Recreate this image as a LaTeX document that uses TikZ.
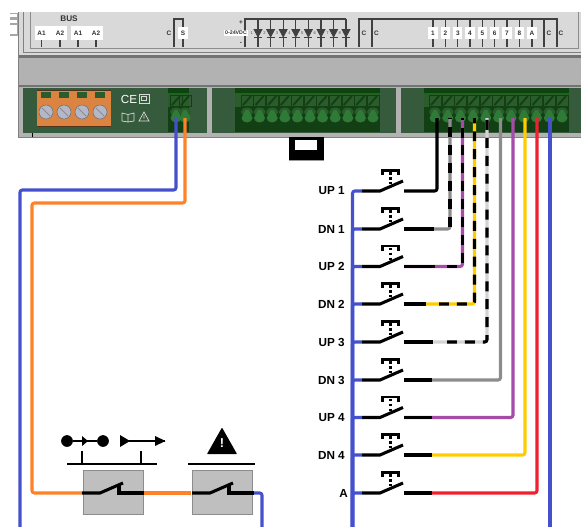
\documentclass[tikz,border=0pt]{standalone}
\usepackage{fontspec}
\setmainfont{Liberation Sans}
\definecolor{pcbgreen}{HTML}{365B3C}
\definecolor{termdark}{HTML}{123F14}
\definecolor{termmid}{HTML}{2A5C2C}
\definecolor{termbell}{HTML}{2F7A36}
\definecolor{paneltop}{HTML}{D9D9D9}
\definecolor{panelband}{HTML}{B2B2B2}
\definecolor{plugorange}{HTML}{DB8442}
\definecolor{screwgray}{HTML}{B4B7C8}
\definecolor{wireblue}{HTML}{4450CC}
\definecolor{wireorange}{HTML}{FF8128}
\definecolor{wirepurple}{HTML}{A64CA8}
\definecolor{wireyellow}{HTML}{FFCC00}
\definecolor{wirered}{HTML}{F0202E}
\definecolor{wiregray}{HTML}{8C8C8C}
\definecolor{wirelight}{HTML}{D4D4D4}
\tikzset{
  wire/.style={line width=2.6pt, rounded corners=2pt},
  stripe/.style={wire, black, dash pattern=on 8.5pt off 6.8pt},
  contact/.style={line width=2.6pt, black},
  rowlabel/.style={anchor=east, font=\bfseries\fontsize{10}{10}\selectfont, inner sep=0pt},
  tinylabel/.style={font=\bfseries\fontsize{5.5}{6}\selectfont, inner sep=1pt, text=black!80},
  pinlabel/.style={tinylabel, fill=white, minimum width=8pt, minimum height=11pt, inner sep=0pt},
  schemline/.style={line width=0.9pt, black!75},
  relaybox/.style={fill=black!25, draw=black!45, line width=0.5pt, minimum width=51pt, minimum height=37.4pt, inner sep=0pt},
}
\begin{document}
\begin{tikzpicture}[x=0.03cm, y=-0.03cm]
   \useasboundingbox (0,0) rectangle (581,527);
   % din clip
   \fill[black!35] (10,13) rectangle (18,36);
   \foreach \ypos in {14,20,25,28,31} {
      \fill[white] (10,\ypos) rectangle (17,\ypos+2.5);
   }
   % housing
   \fill[paneltop] (18,12) rectangle (581,55);
   \fill[panelband] (18,55) rectangle (581,87);
   \fill[black!55] (18,54.5) rectangle (581,57.5);
   \fill[black!55] (18,85) rectangle (581,87);
   \fill[black!30] (18,87) rectangle (581,137);
   \draw[black!50, line width=0.8pt] (18,12) -- (18,137) -- (581,137);
   \draw[black!50, line width=0.8pt] (23,12) -- (23,52) -- (581,52);
   \draw[black!45, line width=0.7pt] (30,12) -- (30,48) -- (578,48) -- (578,12);
   % green boards
   \fill[pcbgreen] (23,88) rectangle (207,133);
   \fill[pcbgreen] (212,88) rectangle (396,133);
   \fill[pcbgreen] (401,88) rectangle (581,133);
   \draw[black] (32,133) -- (32,137);
   % terminal strips
   \foreach \xfirst/\xlast/\xleft/\xright in {176/185/168/189, 247/373/235/380, 435/562/424/569} {
      \fill[termdark] (\xleft,88) rectangle (\xright,132);
      \fill[termmid] (\xleft,93) rectangle (\xright,107);
      \draw[black!70!green, line width=0.4pt] (\xleft,92) -- (\xright,92);
   }
   \foreach \xcen in {176,185,247,259.6,272.2,284.8,297.4,310,322.6,335.2,347.8,360.4,373,
                      435,447.7,460.4,473.1,485.8,498.5,511.2,523.9,536.6,549.3,562} {
      \draw[termdark, line width=0.3pt] (\xcen-6,95) rectangle (\xcen+6,106);
      \draw[termdark, line width=1.6pt] (\xcen-4,105) -- (\xcen+4,96);
      \fill[termmid] (\xcen,112) ellipse (6 and 4.5);
      \fill[termbell] (\xcen-1.5,110) -- (\xcen+1.5,110) -- (\xcen+5.5,118)
         arc (0:180:5.5 and 4.5) -- cycle;
   }
   % orange plug
   \fill[plugorange] (37,90) rectangle (111,126);
   \draw[black!60!brown, line width=0.6pt] (37,90) -- (111,90) (37,126) -- (111,126);
   \foreach \xcen in {46,64,82,100} {
      \fill[termmid] (\xcen-5,92) rectangle (\xcen+5,98);
      \fill[screwgray] (\xcen,112) circle (7);
      \draw[black!55, line width=0.5pt] (\xcen,112) circle (7);
      \draw[black!45, line width=0.7pt] (\xcen-4,108) -- (\xcen+4,116);
   }
   % marks on the board
   \node[text=white, font=\fontsize{10}{10}\selectfont, inner sep=0pt] (cemark) at (129,99) {CE};
   \draw[white!85!black, line width=0.6pt] (139,94) rectangle (149,103) (141.5,96.5) rectangle (146.5,100.5);
   \draw[white!85!black, line width=0.6pt] (122,113) -- (128,114.5) -- (134,113) -- (134,121) -- (128,122) -- (122,121) -- cycle (128,114.5) -- (128,122);
   \draw[white!85!black, line width=0.6pt] (144,112) -- (149,121) -- (139,121) -- cycle (144,115) -- (144,118.5);
   % printed scheme, bus and sensor
   \node[font=\bfseries\fontsize{7}{7}\selectfont, inner sep=0pt, text=black!80] (buslabel) at (69,19) {BUS};
   \foreach \xcen in {41.5,60,78,96} {
      \draw[schemline] (\xcen,38) -- (\xcen,47);
   }
   \fill[white] (35,26) rectangle (66.5,40);
   \fill[white] (71,26) rectangle (102.5,40);
   \foreach \xcen/\pin in {41.5/A1,60/A2,78/A1,96/A2} {
      \node[tinylabel] (bus\xcen) at (\xcen,33) {\pin};
   }
   \draw[schemline] (174,47) -- (174,19) -- (183,19) -- (183,47);
   \node[tinylabel] (sensorc) at (169,33) {C};
   \node[pinlabel] (sensors) at (183,33) {S};
   % printed scheme, leds
   \draw[schemline] (245,47) -- (245,19) -- (346,19);
   \foreach \nled [count=\idx] in {258,270.6,283.2,295.8,308.4,321,333.6,346} {
      \draw[schemline] (\nled,19) -- (\nled,47);
      \draw[fill=white, line width=0.6pt, black!75] (\nled-4,29.5) -- (\nled+4,29.5) -- (\nled,37) -- cycle;
      \draw[schemline] (\nled-4,37.5) -- (\nled+4,37.5);
      \node[font=\fontsize{3.5}{4}\selectfont, inner sep=0pt, text=black!70] (ledno\idx) at (\nled-6.2,33) {\idx};
   }
   \node[font=\bfseries\fontsize{4.5}{5}\selectfont, fill=white, inner sep=1pt, text=black!80] (ledrange) at (236,33) {0-24VDC};
   \node[tinylabel] (ledplus) at (241,23) {+};
   \node[tinylabel] (ledminus) at (241,43) {-};
   % printed scheme, inputs
   \draw[schemline] (359,47) -- (359,19) -- (557,19) -- (557,47);
   \draw[schemline] (372,19) -- (372,47);
   \draw[schemline] (544,19) -- (544,47);
   \node[tinylabel] (commona) at (364,33) {C};
   \node[tinylabel] (commonb) at (376.5,33) {C};
   \node[tinylabel] (commonc) at (549,33) {C};
   \node[tinylabel] (commond) at (561,33) {C};
   \foreach \xcen/\pin in {433/1,445.4/2,457.8/3,470/4,482.4/5,494.6/6,507/7,519.4/8,532/A} {
      \draw[schemline] (\xcen,19) -- (\xcen,47);
      \node[pinlabel] (pin\pin) at (\xcen,33) {\pin};
   }
   % din latch
   \fill[black] (289,137) rectangle (324,160);
   \fill[white] (295,140) rectangle (317,149.5);
   \draw[black!40, line width=0.6pt] (289,160.5) -- (324,160.5);
   % switch rows
   \foreach \name/\ypos/\xlabel/\txt in {upa/191/345/UP 1, dna/229/345/DN 1, upb/266.5/345/UP 2, dnb/304/345/DN 2, upc/342/345/UP 3,
                                 dnc/380/345/DN 3, upd/417.5/345/UP 4, dnd/455/345/DN 4, all/493/348/A} {
      \node[rowlabel] (lbl\name) at (\xlabel,\ypos) {\txt};
      \coordinate (in\name) at (362,\ypos);
      \coordinate (pivot\name) at (380,\ypos);
      \coordinate (out\name) at (404,\ypos);
      \draw[contact] (in\name) -- (pivot\name) -- ++(23,-10);
      \draw[line width=2pt, black] (382.5,\ypos-16) -- (382.5,\ypos-20.5) -- (398.5,\ypos-20.5) -- (398.5,\ypos-16);
      \draw[line width=2pt, black, dash pattern=on 2.5pt off 1.8pt] (390.5,\ypos-19) -- (390.5,\ypos-7);
   }
   % terminals of the wires
   \foreach \name/\xpos in {blueleft/176, orangeleft/185, termupa/437, termdna/450, termupb/462.5, termdnb/474.5,
                            termupc/487, termdnc/500.5, termupd/513, termdnd/525, termall/537, termcom/550} {
      \coordinate (\name) at (\xpos,118);
   }
   \coordinate (endcom) at (550,527);
   \coordinate (busend) at (352.5,527);
   \coordinate (busstart) at (352.5,191);
   % wires to the row switches
   \draw[wire, wireblue] (inupa) -- (busstart) -- (busend);
   \foreach \name in {dna,upb,dnb,upc,dnc,upd,dnd,all} {
      \draw[wire, wireblue] (in\name) -| (busend);
   }
   \draw[wire, wireblue] (termcom) -- (endcom);
   \draw[wire, black] (outupa) -| (termupa);
   \foreach \name/\tint/\lead in {dna/wiregray/30, upb/wirepurple/31, dnb/wireyellow/22, upc/wirelight/29} {
      \draw[wire, \tint] (out\name) -| (term\name);
      \draw[contact] (out\name) -- ++(\lead,0);
   }
   \foreach \name/\tint in {dnc/wiregray, upd/wirepurple, dnd/wireyellow, all/wirered} {
      \draw[wire, \tint] (out\name) -| (term\name);
      \draw[contact] (out\name) -- ++(28,0);
   }
   % black stripes over the coloured wires
   \draw[stripe] (outdna) ++(46,-2) -- (termdna);
   \draw[stripe] (outupb) ++(43,0) -| (termupb);
   \draw[stripe] (outdnb) ++(35,0) -| (termdnb);
   \draw[stripe] (outupc) ++(43,0) -| (termupc);
   % safety contacts
   \node[relaybox] (relaya) at (113,492) {};
   \node[relaybox] (relayb) at (222.5,492) {};
   \coordinate (relayain) at (82,493);
   \coordinate (relayaout) at (144,493);
   \coordinate (relaybin) at (191,493);
   \coordinate (relayaturn) at (32,203);
   \coordinate (blueturn) at (20,190);
   \coordinate (blueend) at (20,527);
   \coordinate (relaybout) at (250,493);
   \coordinate (loopend) at (262,527);
   \draw[wire, wireblue] (blueleft) |- (blueturn) -- (blueend);
   \draw[wire, wireorange] (orangeleft) |- (relayaturn) |- (relayain);
   \draw[wire, wireorange] (relayaout) -- (relaybin);
   \draw[wire, wireblue] (relaybout) -| (loopend);
   \foreach \relay/\xpos in {relaya/82, relayb/192} {
      \draw[contact] (\xpos,493) -- ++(18,0) -- ++(23,-10);
      \draw[contact] (\xpos+37,485) -- ++(0,8) -- ++(25,0);
   }
   % function symbols
   \node[fill=black, circle, inner sep=0pt, minimum size=10pt] (dota) at (67,441) {};
   \node[fill=black, circle, inner sep=0pt, minimum size=10pt] (dotb) at (103,441) {};
   \draw[line width=0.9pt, black] (dota) -- (dotb);
   \fill[black] (82,436) -- (88,441) -- (82,446) -- cycle;
   \coordinate (arrowstart) at (120,441);
   \coordinate (arrowend) at (165,441);
   \draw[line width=0.9pt, black] (arrowstart) -- (arrowend);
   \fill[black] (120,435) -- (130,441) -- (120,447) -- cycle;
   \fill[black] (155,436) -- (165.5,441) -- (155,446) -- cycle;
   \draw[line width=1.1pt, black] (67,464) -- (157,464);
   \draw[line width=1.1pt, black] (82,451) -- (82,464);
   \draw[line width=1.1pt, black] (141,451) -- (141,464);
   \draw[line width=1.1pt, black] (188,464) -- (255,464);
   \fill[black, rounded corners=0.5pt] (222,427.5) -- (237,454) -- (207,454) -- cycle;
   \node[text=white, font=\bfseries\fontsize{11}{11}\selectfont, inner sep=0pt] (warnmark) at (222,443) {!};
\end{tikzpicture}
\end{document}
